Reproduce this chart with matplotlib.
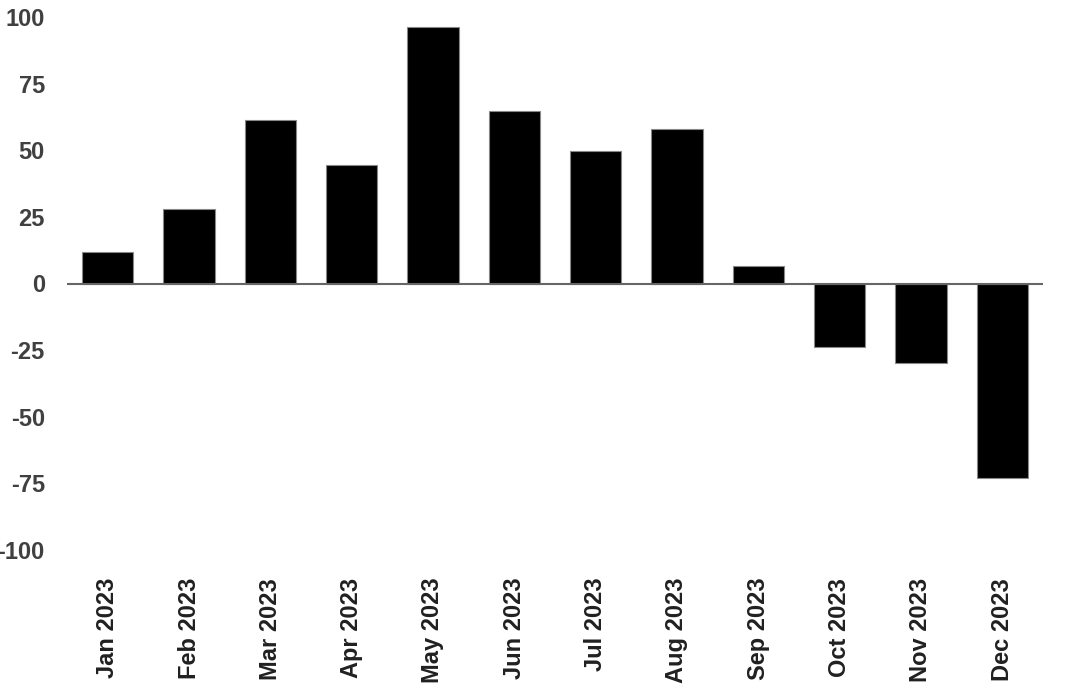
import matplotlib.pyplot as plt

months = ["Jan 2023", "Feb 2023", "Mar 2023", "Apr 2023", "May 2023", "Jun 2023",
          "Jul 2023", "Aug 2023", "Sep 2023", "Oct 2023", "Nov 2023", "Dec 2023"]
values = [12, 28, 61.5, 44.3, 96.3, 64.9, 49.9, 57.8, 6.6, -23.7, -29.9, -73.1]
yticks = [-100, -75, -50, -25, 0, 25, 50, 75, 100]

plt.rcParams['font.family'] = ['Liberation Sans', 'DejaVu Sans']

fig = plt.figure(figsize=(10.8, 6.96), dpi=100)
ax = fig.add_axes([67 / 1080, 1 - 550 / 696, (1043 - 67) / 1080, (550 - 17) / 696])

x = range(len(months))
ax.bar(x, values, width=0.63, color="black", edgecolor="#888888", linewidth=0.8, zorder=2)
ax.axhline(0, color="#666666", linewidth=1.5, zorder=3)

ax.set_xlim(-0.5, len(months) - 0.5)
ax.set_ylim(-100, 100)
ax.set_yticks(yticks)
ax.set_yticklabels([str(t) for t in yticks], fontsize=17, fontweight="bold", color="#404040")
ax.set_xticks(list(x))
ax.set_xticklabels(months, rotation=90, fontsize=17, fontweight="bold", color="#202020")
ax.tick_params(axis="both", length=0)
ax.tick_params(axis="y", pad=16)
ax.tick_params(axis="x", pad=20)
for s in ax.spines.values():
    s.set_visible(False)

fig.savefig("out.png", dpi=100)
